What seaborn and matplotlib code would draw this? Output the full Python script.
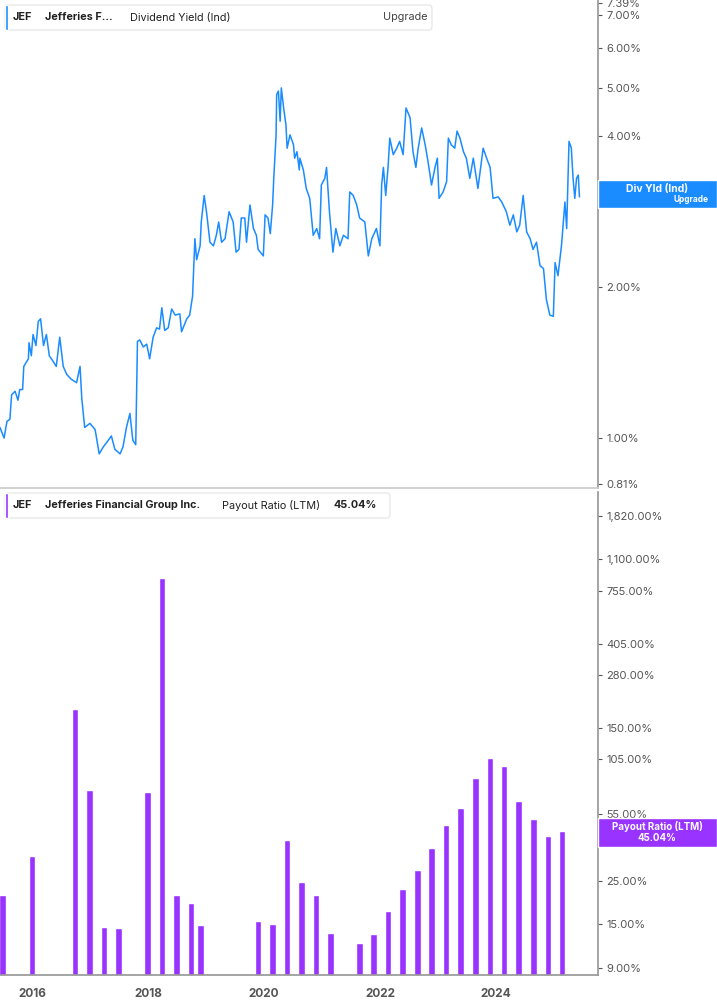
import matplotlib.pyplot as plt
import matplotlib.patches as mpatches
import pandas as pd
import seaborn as sns

# Dividend yield (%), by fractional year
yield_years = [
    2015.45, 2015.52, 2015.57, 2015.62, 2015.65, 2015.71, 2015.76, 2015.79, 2015.84, 2015.86,
    2015.94, 2015.95, 2015.99, 2016.02, 2016.07, 2016.11, 2016.15, 2016.20, 2016.25, 2016.30,
    2016.37, 2016.42, 2016.48, 2016.54, 2016.60, 2016.68, 2016.77, 2016.83, 2016.86, 2016.91,
    2017.00, 2017.09, 2017.16, 2017.23, 2017.29, 2017.37, 2017.43, 2017.52, 2017.57, 2017.63,
    2017.69, 2017.74, 2017.79, 2017.82, 2017.86, 2017.92, 2017.98, 2018.03, 2018.09, 2018.15,
    2018.20, 2018.24, 2018.29, 2018.35, 2018.41, 2018.47, 2018.55, 2018.58, 2018.67, 2018.72,
    2018.77, 2018.81, 2018.84, 2018.90, 2018.92, 2018.97, 2019.01, 2019.07, 2019.13, 2019.18,
    2019.22, 2019.27, 2019.33, 2019.40, 2019.47, 2019.52, 2019.57, 2019.61, 2019.67, 2019.70,
    2019.76, 2019.82, 2019.87, 2019.90, 2019.99, 2020.02, 2020.07, 2020.11, 2020.15, 2020.17,
    2020.21, 2020.22, 2020.25, 2020.28, 2020.30, 2020.34, 2020.38, 2020.40, 2020.45, 2020.51,
    2020.53, 2020.57, 2020.61, 2020.62, 2020.68, 2020.73, 2020.79, 2020.85, 2020.91, 2020.96,
    2020.99, 2021.05, 2021.08, 2021.13, 2021.19, 2021.24, 2021.31, 2021.37, 2021.45, 2021.48,
    2021.54, 2021.60, 2021.65, 2021.74, 2021.80, 2021.86, 2021.94, 2022.00, 2022.03, 2022.06,
    2022.10, 2022.14, 2022.17, 2022.23, 2022.29, 2022.34, 2022.40, 2022.45, 2022.52, 2022.57,
    2022.62, 2022.66, 2022.72, 2022.78, 2022.83, 2022.89, 2022.95, 2022.99, 2023.02, 2023.09,
    2023.15, 2023.18, 2023.23, 2023.29, 2023.33, 2023.38, 2023.44, 2023.49, 2023.55, 2023.61,
    2023.69, 2023.78, 2023.84, 2023.90, 2023.95, 2024.04, 2024.10, 2024.18, 2024.24, 2024.30,
    2024.36, 2024.41, 2024.47, 2024.53, 2024.59, 2024.64, 2024.70, 2024.76, 2024.82, 2024.87,
    2024.93, 2024.99, 2025.02, 2025.07, 2025.13, 2025.19, 2025.22, 2025.26, 2025.30, 2025.33,
    2025.36, 2025.39, 2025.42, 2025.44,
]
yield_values = [
    1.05, 1.00, 1.08, 1.09, 1.22, 1.24, 1.19, 1.25, 1.25, 1.39,
    1.44, 1.55, 1.46, 1.61, 1.53, 1.71, 1.73, 1.53, 1.61, 1.46,
    1.42, 1.39, 1.59, 1.39, 1.34, 1.31, 1.29, 1.39, 1.20, 1.05,
    1.07, 1.04, 0.93, 0.96, 0.98, 1.01, 0.95, 0.93, 0.96, 1.05,
    1.12, 0.99, 0.97, 1.56, 1.57, 1.52, 1.54, 1.44, 1.59, 1.66,
    1.65, 1.82, 1.64, 1.66, 1.81, 1.76, 1.77, 1.63, 1.73, 1.76,
    1.92, 2.50, 2.27, 2.42, 2.70, 3.05, 2.83, 2.46, 2.42, 2.54,
    2.70, 2.46, 2.50, 2.83, 2.70, 2.35, 2.38, 2.75, 2.75, 2.46,
    2.92, 2.62, 2.54, 2.38, 2.31, 2.79, 2.75, 2.56, 2.92, 3.30,
    4.03, 4.85, 4.93, 4.29, 5.00, 4.56, 4.22, 3.79, 4.03, 3.85,
    3.62, 3.73, 3.43, 3.62, 3.43, 3.15, 3.01, 2.54, 2.62, 2.50,
    3.20, 3.30, 3.47, 2.83, 2.35, 2.62, 2.42, 2.54, 2.50, 3.10,
    3.05, 2.92, 2.75, 2.70, 2.31, 2.50, 2.62, 2.42, 3.20, 3.47,
    3.05, 3.47, 3.97, 3.68, 3.79, 3.91, 3.68, 4.56, 4.36, 3.73,
    3.47, 3.79, 4.16, 3.85, 3.56, 3.20, 3.47, 3.62, 3.01, 3.10,
    3.25, 3.97, 3.85, 3.79, 4.10, 3.97, 3.73, 3.62, 3.30, 3.62,
    3.15, 3.79, 3.62, 3.47, 3.01, 3.03, 2.96, 2.83, 2.66, 2.79,
    2.58, 2.66, 3.05, 2.58, 2.50, 2.38, 2.46, 2.21, 2.18, 1.89,
    1.76, 1.75, 2.24, 2.11, 2.42, 2.96, 2.62, 3.91, 3.79, 3.30,
    3.01, 3.30, 3.35, 3.03,
]

# Payout ratio (LTM, %), quarterly bars
payout_years = [
    2015.49, 2016.00, 2016.74, 2016.99, 2017.24, 2017.49, 2017.99, 2018.24, 2018.49, 2018.74,
    2018.91, 2019.90, 2020.15, 2020.40, 2020.65, 2020.90, 2021.15, 2021.65, 2021.89, 2022.14,
    2022.39, 2022.65, 2022.89, 2023.14, 2023.39, 2023.65, 2023.90, 2024.14, 2024.39, 2024.65,
    2024.90, 2025.14,
]
payout_values = [
    21.2, 33.6, 189.0, 73.0, 14.5, 14.4, 71.5, 880.0, 21.2, 19.4,
    14.9, 15.7, 15.1, 40.4, 24.7, 21.1, 13.6, 12.0, 13.4, 17.5,
    22.8, 28.6, 36.7, 48.3, 59.2, 83.4, 106.0, 96.0, 64.0, 52.0,
    42.2, 45.04,
]

top_ticks = [0.81, 1, 2, 3, 4, 5, 6, 7, 7.39]
bottom_ticks = [9, 15, 25, 45, 55, 105, 150, 280, 405, 755, 1100, 1820]
year_ticks = [2016, 2018, 2020, 2022, 2024]

BLUE = "#1a8cff"
PURPLE = "#9933ff"
GREY = "#555555"

sns.set_theme(style="white", font="Inter")
fig = plt.figure(figsize=(7.17, 10.05), dpi=100)
right = 598 / 717
ax1 = fig.add_axes([0, 1 - 488 / 1005, right, 488 / 1005])
ax2 = fig.add_axes([0, 1 - 975 / 1005, right, (975 - 492) / 1005])

xlim = (2015.45, 2025.76)

df_yield = pd.DataFrame({"year": yield_years, "yield": yield_values})
sns.lineplot(data=df_yield, x="year", y="yield", ax=ax1, color=BLUE, linewidth=1.1)
ax1.set_yscale("log")
ax1.set_ylim(0.795, 7.49)
ax1.set_xlim(*xlim)

ax2.bar(payout_years, payout_values, width=0.11, color=PURPLE, bottom=0.001)
ax2.set_yscale("log")
ax2.set_ylim(8.28, 2414)
ax2.set_xlim(*xlim)

for ax, ticks in ((ax1, top_ticks), (ax2, bottom_ticks)):
    ax.yaxis.tick_right()
    ax.set_yticks(ticks)
    ax.set_yticklabels([f"{t:,.2f}%" for t in ticks])
    ax.minorticks_off()
    ax.tick_params(axis="y", colors=GREY, labelsize=8, length=3, width=0.8, pad=3,
                   labelcolor=GREY)
    for side in ("top", "left"):
        ax.spines[side].set_visible(False)
    ax.spines["right"].set_color("#999999")
    ax.set_xlabel("")
    ax.set_ylabel("")

ax1.spines["bottom"].set_color("#cccccc")
ax1.set_xticks([])
ax2.spines["bottom"].set_color("#999999")
ax2.set_xticks(year_ticks)
ax2.set_xticklabels([str(y) for y in year_ticks], fontweight="bold")
ax2.tick_params(axis="x", colors=GREY, labelsize=8.5, length=3, pad=6)


def legend_box(y_top, width, color, parts):
    h = 25 / 1005
    y0 = 1 - y_top / 1005 - h
    fig.patches.append(mpatches.FancyBboxPatch(
        (5 / 717, y0), width / 717, h, boxstyle="round,pad=0,rounding_size=0.004",
        transform=fig.transFigure, facecolor="white", edgecolor="#e3e3e3", linewidth=0.8))
    fig.patches.append(mpatches.Rectangle(
        (5 / 717, y0), 3 / 717, h, transform=fig.transFigure, facecolor=color))
    for x, text, weight, col in parts:
        fig.text(x / 717, y0 + h / 2, text, fontsize=7.8, fontweight=weight, color=col,
                 va="center", ha="left")


legend_box(5, 427, BLUE, [(13, "JEF", "bold", "#222222"), (45, "Jefferies F...", "bold", "#222222"),
                          (130, "Dividend Yield (Ind)", "normal", "#222222"),
                          (383, "Upgrade", "normal", "#444444")])
legend_box(493, 385, PURPLE, [(13, "JEF", "bold", "#222222"),
                              (45, "Jefferies Financial Group Inc.", "bold", "#222222"),
                              (222, "Payout Ratio (LTM)", "normal", "#222222"),
                              (334, "45.04%", "bold", "#222222")])

# right-hand value tags
fig.patches.append(mpatches.Rectangle((right, 1 - 208 / 1005), 1 - right, 28 / 1005,
                                      transform=fig.transFigure, facecolor=BLUE))
fig.text(657 / 717, 1 - 189 / 1005, "Div Yld (Ind)", color="white", fontsize=7.5,
         fontweight="bold", ha="center", va="center")
fig.text(709 / 717, 1 - 200 / 1005, "Upgrade", color="white", fontsize=6,
         fontweight="bold", ha="right", va="center")
fig.patches.append(mpatches.Rectangle((right, 1 - 847 / 1005), 1 - right, 29 / 1005,
                                      transform=fig.transFigure, facecolor=PURPLE))
fig.text(657 / 717, 1 - 826 / 1005, "Payout Ratio (LTM)", color="white", fontsize=7,
         fontweight="bold", ha="center", va="center")
fig.text(657 / 717, 1 - 838 / 1005, "45.04%", color="white", fontsize=7,
         fontweight="bold", ha="center", va="center")

fig.savefig("out.png", dpi=100)
